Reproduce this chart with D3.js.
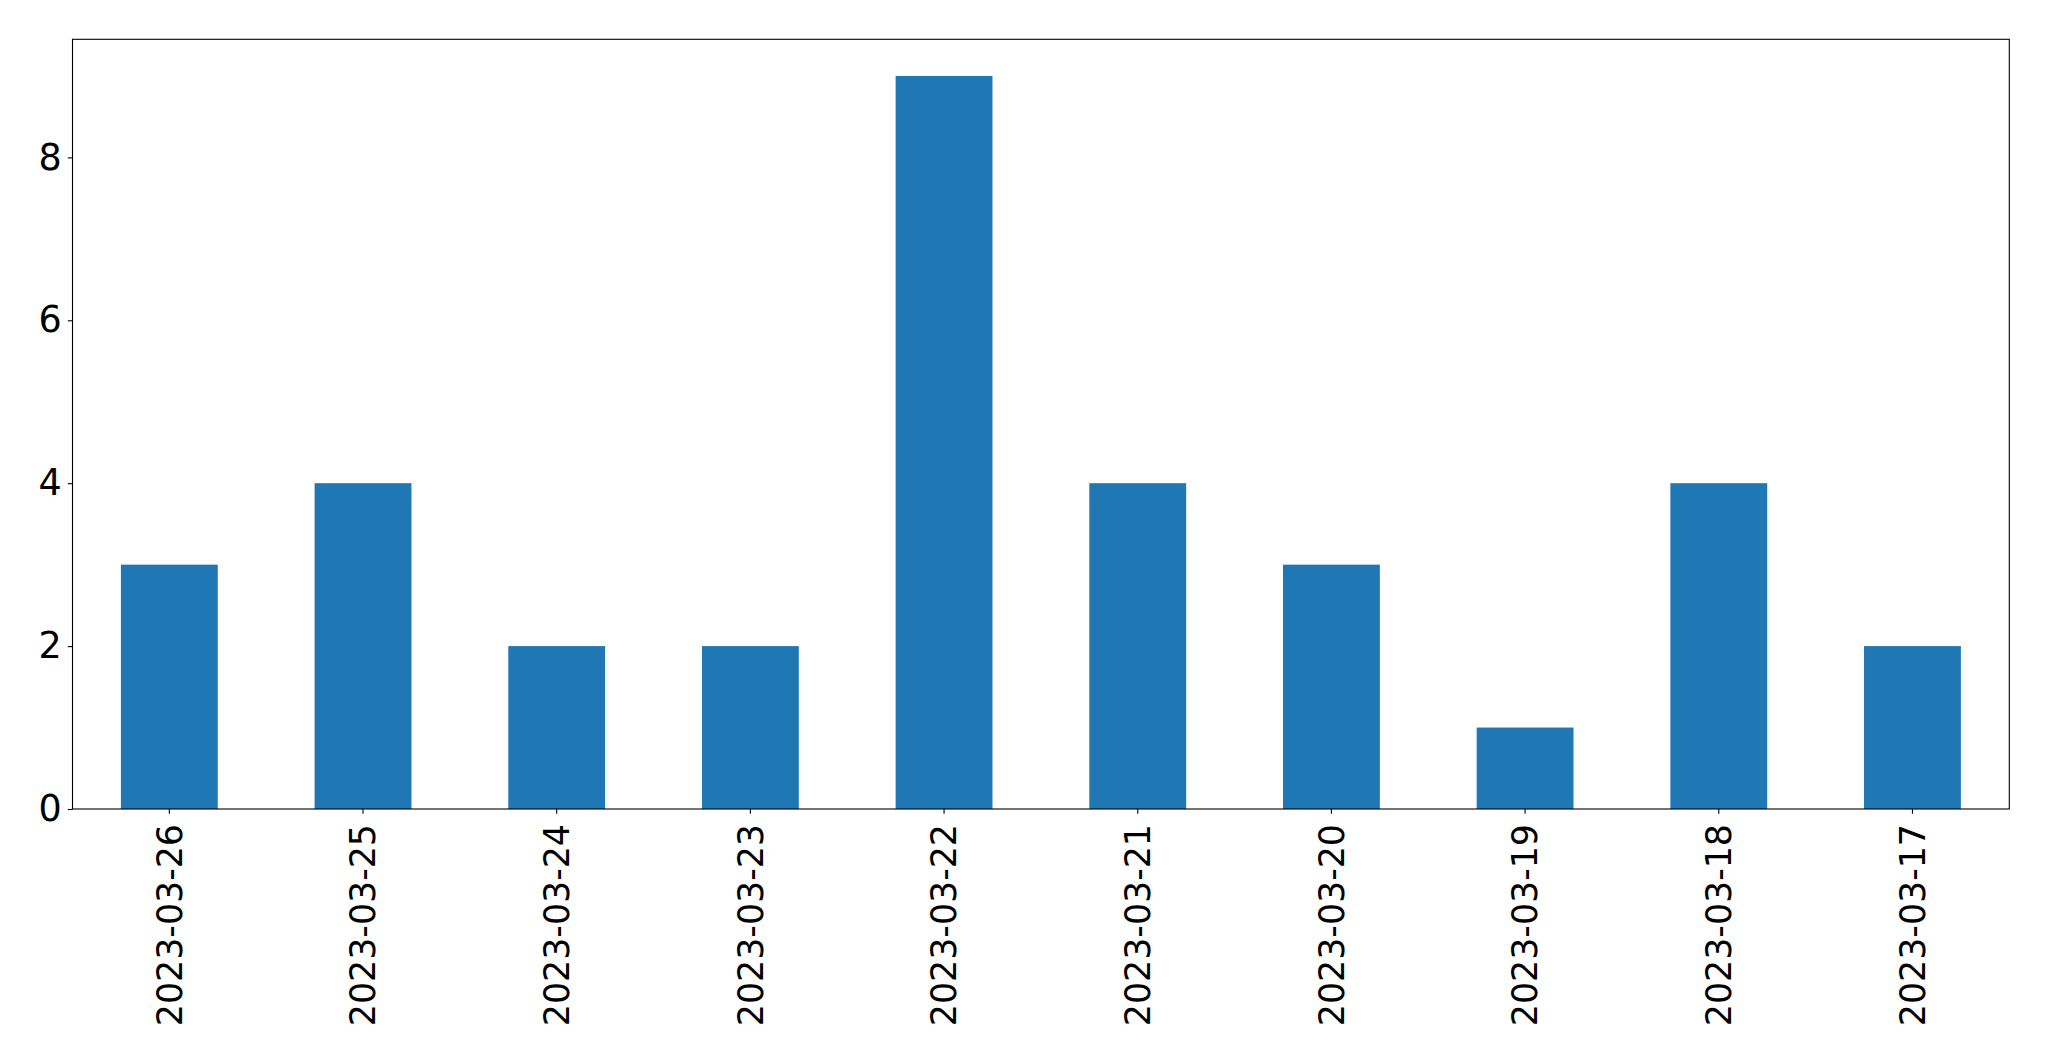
<!DOCTYPE html>
<html><head><meta charset="utf-8">
<script src="https://cdn.jsdelivr.net/npm/d3@7"></script>
<style>body{margin:0;background:#fff}svg{display:block}text{font-family:"DejaVu Sans",sans-serif}</style>
</head><body>
<svg id="c" width="2049" height="1061"></svg>
<script>
const categories = ["2023-03-26","2023-03-25","2023-03-24","2023-03-23","2023-03-22","2023-03-21","2023-03-20","2023-03-19","2023-03-18","2023-03-17"];
const values = [3,4,2,2,9,4,3,1,4,2];
const yTicks = [0,2,4,6,8];

const svg = d3.select("#c");
const m = {left:72.5, top:39.3, right:2009.3, bottom:809};
const x = d3.scaleBand().domain(categories).range([m.left, m.right]).paddingInner(0.5).paddingOuter(0.25);
const y = d3.scaleLinear().domain([0, 9.45]).range([m.bottom, m.top]);

svg.append("g").selectAll("rect").data(values).join("rect")
  .attr("x", (d,i)=>x(categories[i]))
  .attr("width", x.bandwidth())
  .attr("y", d=>y(d))
  .attr("height", d=>y(0)-y(d))
  .attr("fill", "#1f77b4");

const yAxis = svg.append("g").attr("transform",`translate(${m.left},0)`)
  .call(d3.axisLeft(y).tickValues(yTicks).tickSize(4.7).tickPadding(6).tickFormat(d3.format("d")));
yAxis.select(".domain").remove();
yAxis.selectAll("text").attr("font-size", 36.5).attr("font-family","DejaVu Sans").attr("fill","#000");
yAxis.selectAll("line").attr("stroke","#000").attr("stroke-width",1.1);

const xAxis = svg.append("g").attr("transform",`translate(0,${m.bottom})`)
  .call(d3.axisBottom(x).tickSize(4.7).tickPadding(0));
xAxis.select(".domain").remove();
xAxis.selectAll("line").attr("stroke","#000").attr("stroke-width",1.1);
xAxis.selectAll("text")
  .attr("font-size", 34.8).attr("font-family","DejaVu Sans").attr("fill","#000")
  .attr("text-anchor","end")
  .attr("y", 0)
  .attr("transform","translate(0,15) rotate(-90)")
  .attr("x", 0)
  .attr("dy","0.35em");

svg.append("rect").attr("x",m.left).attr("y",m.top).attr("width",m.right-m.left).attr("height",m.bottom-m.top)
  .attr("fill","none").attr("stroke","#000").attr("stroke-width",1.1);
</script>
</body></html>
